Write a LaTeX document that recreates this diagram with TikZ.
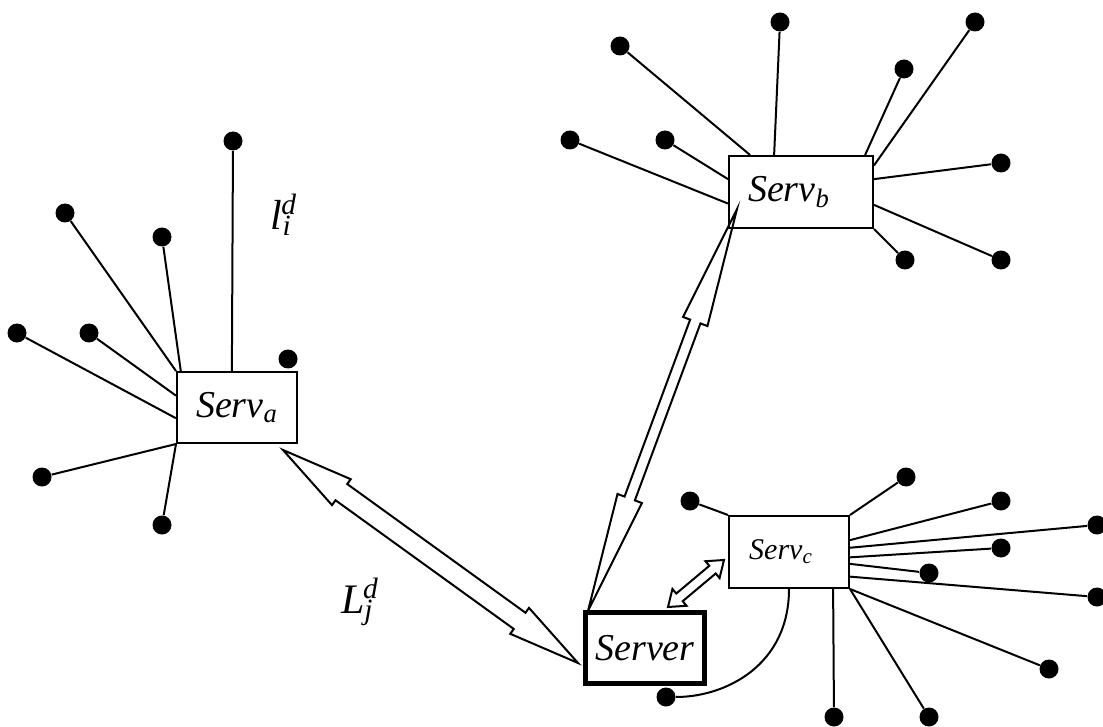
\documentclass[tikz,border=0pt]{standalone}
\usepackage{fontspec}
\setmainfont{Liberation Serif}[ItalicFont={Liberation Serif Italic}]
\usetikzlibrary{calc}

\newcommand{\blockarrow}[5]{%
  \draw[arrowline] (#1)
    -- ($(#1)!#3!(#2)!#4!90:(#2)$) -- ($(#1)!#3!(#2)!#5!90:(#2)$)
    -- ($(#2)!#3!(#1)!#5!-90:(#1)$) -- ($(#2)!#3!(#1)!#4!-90:(#1)$)
    -- (#2)
    -- ($(#2)!#3!(#1)!#4!90:(#1)$) -- ($(#2)!#3!(#1)!#5!90:(#1)$)
    -- ($(#1)!#3!(#2)!#5!-90:(#2)$) -- ($(#1)!#3!(#2)!#4!-90:(#2)$)
    -- cycle;}

\begin{document}
\begin{tikzpicture}[x=0.5pt,y=-0.5pt,
  serv/.style={draw,line width=1pt,minimum width=60pt,minimum height=36pt,inner sep=0pt,font=\fontsize{19}{22}\selectfont\itshape},
  leaf/.style={circle,fill,inner sep=0pt,minimum size=9.5pt},
  link/.style={line width=1pt},
  lab/.style={font=\fontsize{21}{24}\selectfont\itshape},
  arrowline/.style={line width=1pt,line join=miter}]
  \useasboundingbox (0,0) rectangle (1103,727);

  \node[serv,minimum height=35.5pt] (sa) at (237,407.5) {Serv\textsubscript{a}};
  \node[serv,minimum width=72pt] (sb) at (801,192) {Serv\textsubscript{b}\hspace*{12pt}};
  \node[serv,font=\fontsize{15}{18}\selectfont\itshape] (sc) at (789,552) {Serv\textsubscript{c}\hspace*{8pt}};
  \node[serv,line width=2.5pt,minimum width=59.5pt,minimum height=35.5pt] (srv) at (645,648) {Server};

  \node[leaf] (a1) at (233,141) {};
  \node[leaf] (a2) at (65,213) {};
  \node[leaf] (a3) at (162,237) {};
  \node[leaf] (a4) at (17,333) {};
  \node[leaf] (a5) at (89,333) {};
  \node[leaf] (a6) at (288,359) {};
  \node[leaf] (a7) at (42,477) {};
  \node[leaf] (a8) at (162,525) {};
  \draw[link] (sa.98) -- (a1);
  \draw[link] (sa.north west) -- (a2);
  \draw[link] (sa.147) -- (a3);
  \draw[link] (sa.190) -- (a4);
  \draw[link] (sa.169) -- (a5);
  \draw[link] (sa.south west) -- (a7);
  \draw[link] (sa.south west) -- (a8);

  \node[leaf] (b1) at (620,46) {};
  \node[leaf] (b2) at (780,22) {};
  \node[leaf] (b3) at (904,69) {};
  \node[leaf] (b4) at (975,22) {};
  \node[leaf] (b5) at (570,140) {};
  \node[leaf] (b6) at (665,140) {};
  \node[leaf] (b7) at (1001,163) {};
  \node[leaf] (b8) at (1001,260) {};
  \node[leaf] (b9) at (905,260) {};
  \draw[link] (sb.144) -- (b1);
  \draw[link] (sb.126) -- (b2);
  \draw[link] (sb.30) -- (b3);
  \draw[link] (sb.20) -- (b4);
  \draw[link] (sb.189) -- (b5);
  \draw[link] (sb.170) -- (b6);
  \draw[link] (sb.10) -- (b7);
  \draw[link] (sb.350) -- (b8);
  \draw[link] (sb.south east) -- (b9);

  \node[leaf] (c1) at (690,501) {};
  \node[leaf] (c2) at (906,477) {};
  \node[leaf] (c3) at (1001,501) {};
  \node[leaf] (c4) at (1097,525) {};
  \node[leaf] (c5) at (1001,548) {};
  \node[leaf] (c6) at (929,573) {};
  \node[leaf] (c7) at (1097,597) {};
  \node[leaf] (c8) at (1049,669) {};
  \node[leaf] (c9) at (929,717) {};
  \node[leaf] (c10) at (834,717) {};
  \node[leaf] (c11) at (666,697) {};
  \draw[link] (sc.north west) -- (c1);
  \draw[link] (sc.north east) -- (c2);
  \draw[link] (sc.11) -- (c3);
  \draw[link] (sc.4) -- (c4);
  \draw[link] (sc.355) -- (c5);
  \draw[link] (sc.349) -- (c6);
  \draw[link] (sc.338) -- (c7);
  \draw[link] (sc.south east) -- (c8);
  \draw[link] (sc.south east) -- (c9);
  \draw[link] (sc.320) -- (c10);
  \draw[link] (sc.south) .. controls +(0pt,-38pt) and +(30pt,0pt) .. (c11);

  \node[lab] (li) at (284,215) {l\textsubscript{i}\kern-0.25em\textsuperscript{d}};
  \node[lab] (Lj) at (360,602) {L\textsubscript{j}\kern-0.25em\textsuperscript{d}};

  \coordinate (p1) at (283,450);
  \coordinate (p2) at (578,663);
  \coordinate (q1) at (588,611);
  \coordinate (q2) at (737,209);
  \coordinate (r1) at (668,607);
  \coordinate (r2) at (724,560);
  \blockarrow{p1}{p2}{36pt}{8pt}{5pt}
  \blockarrow{q1}{q2}{60pt}{6.5pt}{2.75pt}
  \blockarrow{r1}{r2}{7.5pt}{5.5pt}{2.5pt}
\end{tikzpicture}
\end{document}
